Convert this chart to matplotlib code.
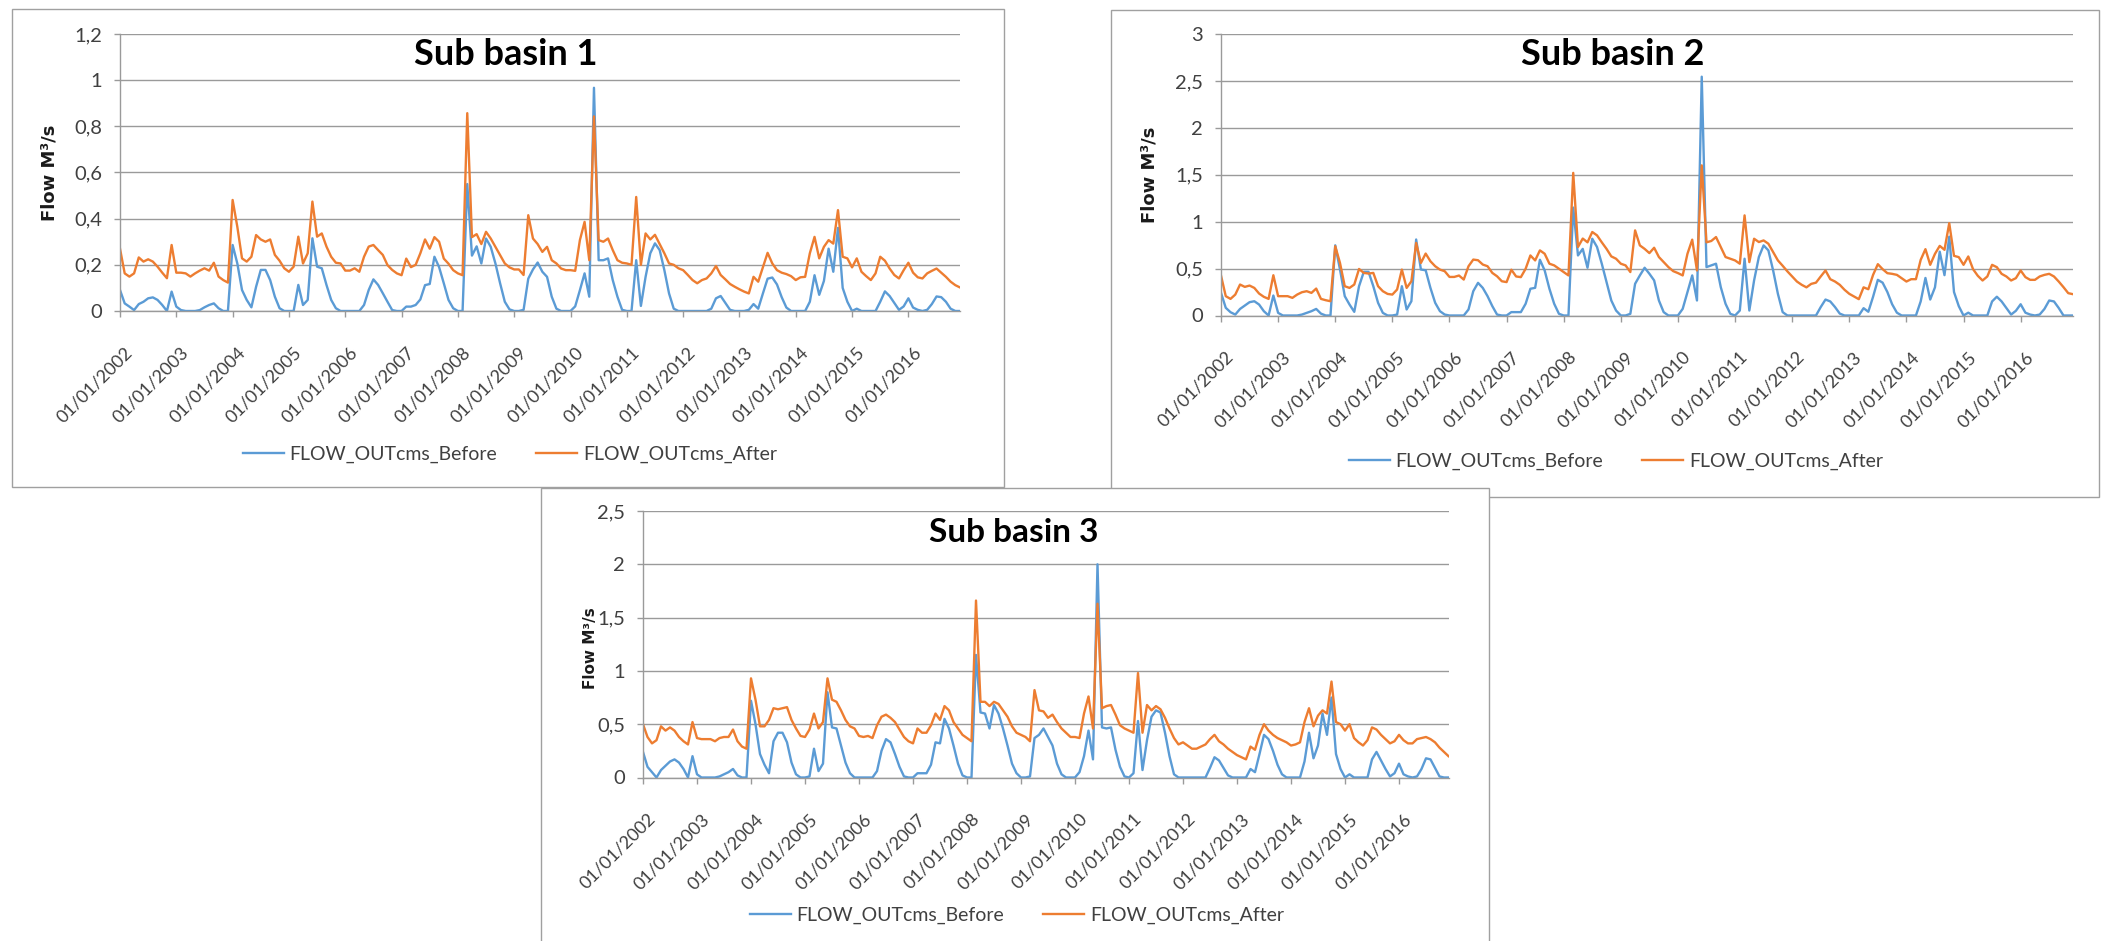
import matplotlib
matplotlib.use('Agg')
import matplotlib.pyplot as plt
import matplotlib.transforms as mtransforms
from matplotlib.patches import Rectangle
from matplotlib.ticker import FuncFormatter
import numpy as np

W, H = 2106, 941

# monthly values, Jan 2002 .. Dec 2016 (one row = one year)
years = list(range(2002, 2017))
tick_labels = [f"01/01/{y}" for y in years]
months = np.arange(180)

sb1_before = [
    0.091, 0.033, 0.019, 0.004, 0.03, 0.04, 0.055, 0.059, 0.048, 0.026, 0.0, 0.084,
    0.019, 0.004, 0.0, 0.0, 0.0, 0.004, 0.016, 0.026, 0.033, 0.012, 0.0, 0.0,
    0.286, 0.206, 0.091, 0.048, 0.016, 0.105, 0.178, 0.178, 0.134, 0.062, 0.012, 0.0,
    0.0, 0.0, 0.113, 0.026, 0.048, 0.315, 0.192, 0.185, 0.113, 0.048, 0.012, 0.0,
    0.0, 0.0, 0.0, 0.0, 0.026, 0.091, 0.137, 0.113, 0.077, 0.04, 0.004, 0.0,
    0.0, 0.019, 0.019, 0.026, 0.05, 0.112, 0.117, 0.235, 0.19, 0.12, 0.048, 0.012,
    0.0, 0.0, 0.55, 0.24, 0.28, 0.206, 0.314, 0.278, 0.206, 0.12, 0.04, 0.007,
    0.0, 0.0, 0.005, 0.14, 0.18, 0.21, 0.17, 0.148, 0.062, 0.01, 0.0, 0.0,
    0.0, 0.02, 0.09, 0.163, 0.062, 0.967, 0.22, 0.22, 0.228, 0.134, 0.062, 0.005,
    0.0, 0.0, 0.22, 0.022, 0.148, 0.25, 0.293, 0.264, 0.177, 0.076, 0.01, 0.0,
    0.0, 0.0, 0.0, 0.0, 0.0, 0.0, 0.01, 0.055, 0.065, 0.035, 0.005, 0.0,
    0.0, 0.0, 0.005, 0.03, 0.01, 0.076, 0.14, 0.145, 0.115, 0.06, 0.015, 0.0,
    0.0, 0.0, 0.0, 0.04, 0.155, 0.07, 0.13, 0.27, 0.17, 0.36, 0.1, 0.04,
    0.0, 0.01, 0.0, 0.0, 0.0, 0.0, 0.04, 0.085, 0.065, 0.035, 0.005, 0.02,
    0.055, 0.015, 0.005, 0.0, 0.005, 0.03, 0.063, 0.06, 0.04, 0.01, 0.0, 0.0,
]
sb1_after = [
    0.27, 0.163, 0.149, 0.163, 0.232, 0.214, 0.224, 0.214, 0.192, 0.166, 0.142, 0.286,
    0.166, 0.166, 0.163, 0.149, 0.163, 0.175, 0.185, 0.175, 0.209, 0.149, 0.134, 0.123,
    0.481, 0.365, 0.228, 0.214, 0.235, 0.329, 0.31, 0.3, 0.31, 0.243, 0.218, 0.185,
    0.17, 0.192, 0.322, 0.206, 0.25, 0.474, 0.322, 0.336, 0.279, 0.235, 0.209, 0.206,
    0.175, 0.175, 0.185, 0.17, 0.235, 0.279, 0.286, 0.264, 0.243, 0.199, 0.178, 0.163,
    0.155, 0.227, 0.19, 0.2, 0.25, 0.31, 0.27, 0.32, 0.3, 0.227, 0.205, 0.177,
    0.163, 0.155, 0.857, 0.32, 0.333, 0.29, 0.343, 0.314, 0.278, 0.242, 0.206, 0.189,
    0.18, 0.18, 0.156, 0.415, 0.314, 0.29, 0.256, 0.278, 0.22, 0.206, 0.184, 0.177,
    0.177, 0.174, 0.307, 0.386, 0.22, 0.843, 0.307, 0.3, 0.314, 0.264, 0.22, 0.209,
    0.206, 0.2, 0.494, 0.2, 0.336, 0.31, 0.33, 0.29, 0.25, 0.206, 0.2, 0.185,
    0.177, 0.156, 0.134, 0.12, 0.134, 0.141, 0.163, 0.195, 0.156, 0.137, 0.117, 0.105,
    0.094, 0.084, 0.076, 0.148, 0.127, 0.19, 0.252, 0.206, 0.177, 0.166, 0.16, 0.151,
    0.134, 0.146, 0.148, 0.25, 0.321, 0.228, 0.278, 0.307, 0.292, 0.437, 0.235, 0.228,
    0.189, 0.228, 0.17, 0.151, 0.134, 0.163, 0.235, 0.218, 0.184, 0.156, 0.141, 0.177,
    0.209, 0.166, 0.146, 0.141, 0.163, 0.174, 0.184, 0.166, 0.148, 0.127, 0.112, 0.102,
]

sb2_before = [
    0.241, 0.082, 0.035, 0.01, 0.07, 0.106, 0.142, 0.152, 0.117, 0.046, 0.0, 0.213,
    0.028, 0.0, 0.0, 0.0, 0.0, 0.01, 0.028, 0.046, 0.07, 0.02, 0.0, 0.0,
    0.748, 0.49, 0.206, 0.117, 0.039, 0.312, 0.465, 0.465, 0.312, 0.135, 0.028, 0.0,
    0.0, 0.01, 0.312, 0.064, 0.152, 0.81, 0.49, 0.482, 0.294, 0.135, 0.046, 0.01,
    0.0, 0.0, 0.0, 0.0, 0.064, 0.259, 0.348, 0.294, 0.206, 0.1, 0.01, 0.0,
    0.0, 0.036, 0.036, 0.036, 0.125, 0.285, 0.295, 0.594, 0.48, 0.285, 0.125, 0.018,
    0.0, 0.0, 1.15, 0.64, 0.71, 0.509, 0.818, 0.73, 0.552, 0.356, 0.16, 0.053,
    0.0, 0.0, 0.018, 0.338, 0.427, 0.509, 0.445, 0.374, 0.16, 0.036, 0.0, 0.0,
    0.0, 0.071, 0.249, 0.427, 0.16, 2.545, 0.516, 0.534, 0.552, 0.302, 0.125, 0.018,
    0.0, 0.053, 0.605, 0.053, 0.374, 0.623, 0.747, 0.694, 0.48, 0.231, 0.036, 0.0,
    0.0, 0.0, 0.0, 0.0, 0.0, 0.0, 0.09, 0.17, 0.15, 0.09, 0.02, 0.0,
    0.0, 0.0, 0.0, 0.078, 0.04, 0.2, 0.38, 0.35, 0.25, 0.12, 0.03, 0.0,
    0.0, 0.0, 0.0, 0.15, 0.4, 0.17, 0.3, 0.68, 0.43, 0.84, 0.25, 0.1,
    0.0, 0.03, 0.0, 0.0, 0.0, 0.0, 0.15, 0.2, 0.15, 0.08, 0.01, 0.05,
    0.12, 0.03, 0.01, 0.0, 0.01, 0.07, 0.16, 0.15, 0.08, 0.0, 0.0, 0.0,
]
sb2_after = [
    0.426, 0.206, 0.177, 0.223, 0.33, 0.305, 0.319, 0.294, 0.234, 0.199, 0.177, 0.429,
    0.206, 0.206, 0.206, 0.188, 0.223, 0.248, 0.259, 0.241, 0.287, 0.177, 0.163, 0.152,
    0.738, 0.56, 0.312, 0.294, 0.33, 0.496, 0.454, 0.447, 0.454, 0.312, 0.259, 0.23,
    0.223, 0.277, 0.489, 0.294, 0.365, 0.773, 0.56, 0.66, 0.578, 0.525, 0.489, 0.472,
    0.411, 0.411, 0.426, 0.383, 0.525, 0.596, 0.589, 0.543, 0.525, 0.454, 0.418, 0.365,
    0.356, 0.488, 0.416, 0.409, 0.498, 0.64, 0.587, 0.694, 0.658, 0.552, 0.534, 0.498,
    0.463, 0.427, 1.52, 0.73, 0.82, 0.78, 0.89, 0.854, 0.78, 0.71, 0.63, 0.605,
    0.552, 0.534, 0.463, 0.907, 0.747, 0.71, 0.665, 0.722, 0.623, 0.569, 0.516, 0.473,
    0.452, 0.427, 0.658, 0.808, 0.48, 1.6, 0.78, 0.794, 0.836, 0.73, 0.623, 0.605,
    0.587, 0.552, 1.067, 0.569, 0.818, 0.783, 0.8, 0.765, 0.676, 0.587, 0.53, 0.47,
    0.416, 0.362, 0.327, 0.3, 0.337, 0.35, 0.416, 0.48, 0.387, 0.362, 0.327, 0.274,
    0.231, 0.202, 0.174, 0.3, 0.28, 0.433, 0.547, 0.494, 0.451, 0.444, 0.433, 0.398,
    0.362, 0.387, 0.387, 0.593, 0.707, 0.54, 0.657, 0.742, 0.7, 0.984, 0.636, 0.622,
    0.54, 0.629, 0.494, 0.423, 0.373, 0.416, 0.54, 0.515, 0.444, 0.416, 0.373, 0.398,
    0.48, 0.409, 0.38, 0.38, 0.416, 0.433, 0.444, 0.416, 0.362, 0.302, 0.238, 0.227,
]

sb3_before = [
    0.24, 0.1, 0.05, 0.0, 0.07, 0.11, 0.15, 0.17, 0.14, 0.08, 0.0, 0.2,
    0.03, 0.0, 0.0, 0.0, 0.0, 0.01, 0.03, 0.05, 0.08, 0.02, 0.0, 0.0,
    0.72, 0.5, 0.22, 0.12, 0.04, 0.34, 0.42, 0.42, 0.33, 0.14, 0.03, 0.0,
    0.0, 0.01, 0.27, 0.06, 0.13, 0.8, 0.47, 0.46, 0.3, 0.14, 0.04, 0.0,
    0.0, 0.0, 0.0, 0.0, 0.06, 0.25, 0.36, 0.33, 0.22, 0.1, 0.01, 0.0,
    0.0, 0.04, 0.04, 0.04, 0.12, 0.33, 0.32, 0.55, 0.46, 0.3, 0.13, 0.02,
    0.0, 0.0, 1.15, 0.61, 0.6, 0.46, 0.68, 0.6, 0.46, 0.3, 0.13, 0.04,
    0.0, 0.0, 0.01, 0.37, 0.4, 0.46, 0.38, 0.3, 0.13, 0.03, 0.0, 0.0,
    0.0, 0.05, 0.2, 0.44, 0.17, 2.0, 0.47, 0.46, 0.47, 0.26, 0.1, 0.01,
    0.0, 0.04, 0.53, 0.07, 0.35, 0.57, 0.63, 0.61, 0.42, 0.2, 0.03, 0.0,
    0.0, 0.0, 0.0, 0.0, 0.0, 0.0, 0.09, 0.19, 0.16, 0.09, 0.02, 0.0,
    0.0, 0.0, 0.0, 0.08, 0.05, 0.22, 0.4, 0.36, 0.25, 0.12, 0.03, 0.0,
    0.0, 0.0, 0.0, 0.15, 0.42, 0.18, 0.3, 0.6, 0.4, 0.75, 0.22, 0.08,
    0.0, 0.03, 0.0, 0.0, 0.0, 0.0, 0.17, 0.24, 0.16, 0.08, 0.01, 0.04,
    0.13, 0.03, 0.01, 0.0, 0.01, 0.08, 0.18, 0.17, 0.09, 0.01, 0.0, 0.0,
]
sb3_after = [
    0.5, 0.38, 0.32, 0.35, 0.48, 0.44, 0.47, 0.44, 0.38, 0.34, 0.31, 0.52,
    0.37, 0.36, 0.36, 0.36, 0.34, 0.37, 0.38, 0.38, 0.45, 0.34, 0.29, 0.27,
    0.93, 0.73, 0.48, 0.48, 0.54, 0.65, 0.64, 0.65, 0.66, 0.54, 0.46, 0.39,
    0.38, 0.45, 0.6, 0.46, 0.52, 0.93, 0.73, 0.71, 0.63, 0.54, 0.48, 0.46,
    0.39, 0.38, 0.39, 0.37, 0.49, 0.57, 0.59, 0.56, 0.52, 0.45, 0.38, 0.34,
    0.32, 0.46, 0.42, 0.42, 0.49, 0.6, 0.54, 0.67, 0.63, 0.52, 0.46, 0.4,
    0.37, 0.34, 1.66, 0.71, 0.71, 0.67, 0.71, 0.69, 0.63, 0.57, 0.48, 0.42,
    0.4, 0.38, 0.34, 0.82, 0.63, 0.62, 0.56, 0.59, 0.52, 0.46, 0.42, 0.38,
    0.38, 0.37, 0.6, 0.76, 0.46, 1.63, 0.65, 0.67, 0.68, 0.59, 0.49, 0.46,
    0.44, 0.42, 0.98, 0.42, 0.68, 0.63, 0.67, 0.64, 0.56, 0.46, 0.37, 0.31,
    0.33, 0.3, 0.27, 0.27, 0.29, 0.31, 0.36, 0.4, 0.34, 0.31, 0.27, 0.24,
    0.21, 0.19, 0.17, 0.29, 0.26, 0.4, 0.5, 0.44, 0.4, 0.37, 0.35, 0.33,
    0.3, 0.31, 0.33, 0.52, 0.65, 0.48, 0.58, 0.63, 0.6, 0.9, 0.52, 0.5,
    0.44, 0.5, 0.37, 0.33, 0.3, 0.35, 0.47, 0.45, 0.4, 0.36, 0.32, 0.34,
    0.4, 0.35, 0.32, 0.32, 0.36, 0.37, 0.38, 0.36, 0.33, 0.28, 0.24, 0.2,
]

BLUE = '#5B9BD5'
ORANGE = '#ED7D31'
GRID = '#9a9a9a'
TXT = '#404040'
FONT = ['Lato', 'DejaVu Sans']

plt.rcParams['font.family'] = FONT


def fig_rect(x0, y0, x1, y1):
    # pixel box (top-left origin) -> figure fraction [left, bottom, w, h]
    return [x0 / W, 1 - y1 / H, (x1 - x0) / W, (y1 - y0) / H]


fig = plt.figure(figsize=(W / 100, H / 100), dpi=100)
fig.patch.set_facecolor('white')

# chart frames, the third one sits on top of the others
for x0, y0, x1, y1 in [(12, 9.5, 1004, 487.5), (1111, 9.5, 2099, 497), (541, 488, 1489, 948)]:
    l, b, w, h = fig_rect(x0, y0, x1, y1)
    fig.add_artist(Rectangle((l, b), w, h, transform=fig.transFigure,
                             facecolor='white', edgecolor='#a0a0a0', lw=1.0, zorder=-1))

panels = [
    dict(title="Sub basin 1", before=sb1_before, after=sb1_after, ymax=1.2, step=0.2,
         plot=(120, 34, 960, 311), title_xy=(506, 65), ylab_xy=(49, 173), ylab_size=13,
         leg_xy=(510, 454), tsize=26),
    dict(title="Sub basin 2", before=sb2_before, after=sb2_after, ymax=3.0, step=0.5,
         plot=(1221, 34, 2073, 315.5), title_xy=(1613, 65), ylab_xy=(1150, 175), ylab_size=13,
         leg_xy=(1616, 461), tsize=26),
    dict(title="Sub basin 3", before=sb3_before, after=sb3_after, ymax=2.5, step=0.5,
         plot=(643, 511, 1448.5, 777.5), title_xy=(1014, 542), ylab_xy=(591, 648), ylab_size=11,
         leg_xy=(1017, 915), tsize=24),
]

comma = FuncFormatter(lambda v, p: f"{v:g}".replace('.', ','))
shift = mtransforms.ScaledTranslation(10 / 100, 0, fig.dpi_scale_trans)

for p in panels:
    ax = fig.add_axes(fig_rect(*p['plot']))
    ax.set_facecolor('none')
    ax.plot(months, p['before'], color=BLUE, lw=1.7, label='FLOW_OUTcms_Before')
    ax.plot(months, p['after'], color=ORANGE, lw=1.7, label='FLOW_OUTcms_After')
    ax.set_xlim(0, 179)
    ax.set_ylim(0, p['ymax'])
    ax.set_yticks(np.arange(0, p['ymax'] + 1e-9, p['step']))
    ax.yaxis.set_major_formatter(comma)
    ax.grid(axis='y', color=GRID, lw=1.0)
    ax.set_axisbelow(True)
    for s in ['top', 'right']:
        ax.spines[s].set_visible(False)
    for s in ['left', 'bottom']:
        ax.spines[s].set_color(GRID)
        ax.spines[s].set_linewidth(1.0)
    ax.tick_params(axis='y', length=4, width=1.0, color=GRID, pad=9, labelsize=14.5, labelcolor=TXT)
    ax.tick_params(axis='x', length=4, width=1.0, color=GRID, pad=24, labelsize=13, labelcolor=TXT)
    ax.set_xticks(range(0, 180, 12))
    ax.set_xticklabels(tick_labels, rotation=45, ha='right', va='center', rotation_mode='anchor')
    for lab in ax.get_xticklabels():
        lab.set_transform(lab.get_transform() + shift)

    tx, ty = p['title_xy']
    fig.text(tx / W, 1 - ty / H, p['title'], ha='center', va='baseline',
             fontsize=p['tsize'], fontweight='bold', color='black')
    lx, ly = p['ylab_xy']
    fig.text(lx / W, 1 - ly / H, "Flow M³/s", rotation=90, ha='center', va='center',
             fontsize=p['ylab_size'], fontweight='bold', family=['DejaVu Sans'], color='#1a1a1a')
    gx, gy = p['leg_xy']
    ax.legend(ncol=2, loc='center', bbox_to_anchor=(gx / W, 1 - gy / H),
              bbox_transform=fig.transFigure, frameon=False, fontsize=14,
              handlelength=2.1, handletextpad=0.3, columnspacing=2.0, labelcolor=TXT)

fig.savefig('out.png', dpi=100)
